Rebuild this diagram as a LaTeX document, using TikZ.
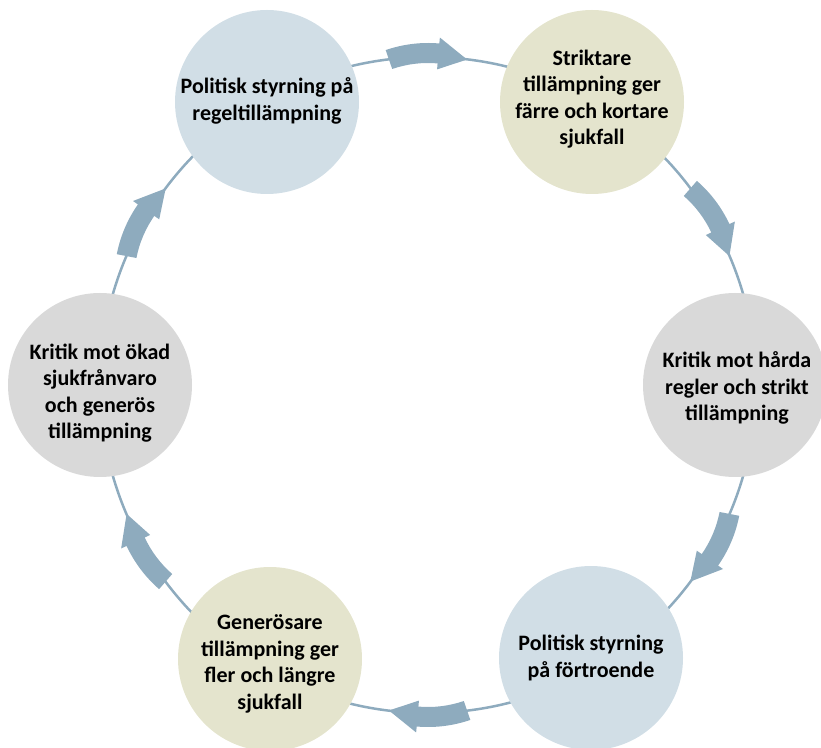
\documentclass[tikz,border=0pt]{standalone}
\usepackage{fontspec}
\setmainfont{Carlito}
\definecolor{stageblue}{HTML}{D1DEE6}
\definecolor{stagebeige}{HTML}{E4E4CD}
\definecolor{stagegray}{HTML}{D9D9D9}
\definecolor{cycleline}{HTML}{8EABBE}
\begin{document}
\begin{tikzpicture}[x=1pt,y=1pt,
  stage/.style={circle, minimum size=184pt, inner sep=0pt},
  bluestage/.style={stage, fill=stageblue},
  beigestage/.style={stage, fill=stagebeige},
  graystage/.style={stage, fill=stagegray},
  stagetext/.style={align=center, inner sep=0pt,
    font=\fontsize{22}{26.5}\selectfont\bfseries, text=black},
  ringline/.style={draw=cycleline, line width=2.5pt},
  blockarrow/.style={fill=cycleline}
]
\useasboundingbox (0,0) rectangle (821,747);
\coordinate (hub) at (428,362);

% thin ring joining the six stages
\foreach \s in {120,60,0,-60,-120,-180}{
  \draw[ringline] ([shift={(\s:328pt)}]hub) arc[start angle=\s, end angle=\s-60, radius=328pt];
}

% stages of the cycle
\node[bluestage]  (tl) at (267,645) {};
\node[beigestage] (tr) at (592,645) {};
\node[graystage]  (r)  at (735,362) {};
\node[bluestage]  (br) at (591,89)  {};
\node[beigestage] (bl) at (270,88)  {};
\node[graystage]  (l)  at (100,362) {};

% stage captions
\node[stagetext] (tltext) at ([yshift=1]tl.center) {Politisk styrning på\\regeltillämpning};
\node[stagetext] (trtext) at ([yshift=3]tr.center) {Striktare\\tillämpning ger\\färre och kortare\\sjukfall};
\node[stagetext] (rtext)  at ([xshift=2,yshift=-3]r.center) {Kritik mot hårda\\regler och strikt\\tillämpning};
\node[stagetext] (brtext) at (br.center) {Politisk styrning\\på förtroende};
\node[stagetext] (bltext) at ([yshift=-5]bl.center) {Generösare\\tillämpning ger\\fler och längre\\sjukfall};
\node[stagetext] (ltext)  at ([yshift=-8]l.center) {Kritik mot ökad\\sjukfrånvaro\\och generös\\tillämpning};

% curved block arrows, clockwise, midway between stages
\foreach \a in {90,30,-30,-90,-150,150}{
  \begin{scope}[shift={(hub)}, rotate=\a-90, shift={(0,212)}]
    \fill[blockarrow] (109:130pt) arc[start angle=109, end angle=85, radius=130pt]
      -- (85:136pt) -- (71:120pt) -- (85:104pt) -- (85:110pt)
      arc[start angle=85, end angle=109, radius=110pt] -- cycle;
  \end{scope}
}
\end{tikzpicture}
\end{document}
